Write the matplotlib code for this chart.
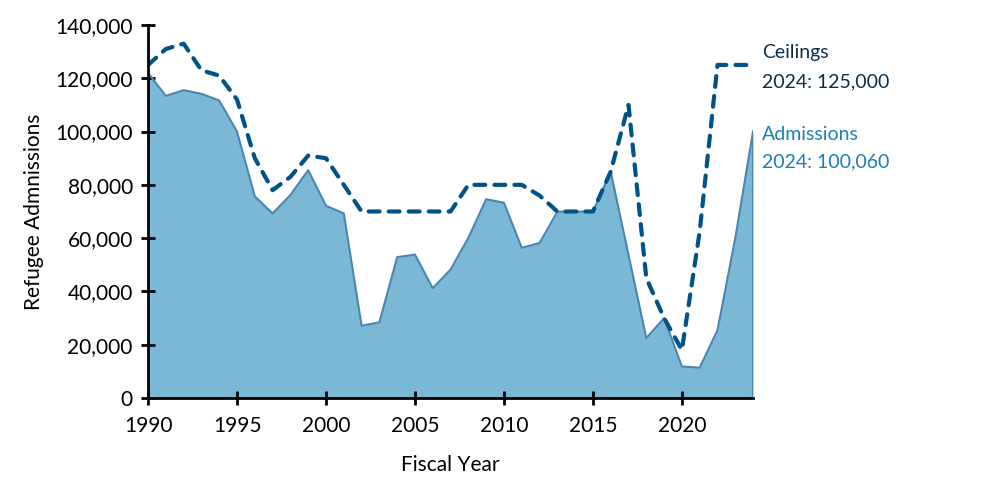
import numpy as np
import matplotlib
matplotlib.use("Agg")
import matplotlib.pyplot as plt
from matplotlib.ticker import FuncFormatter

plt.rcParams['font.family'] = ['Lato', 'DejaVu Sans']

# Fiscal years 1990-2024
years = list(range(1990, 2025))

# Refugee ceilings (dashed line)
ceilings = [125000, 131000, 133000, 123000, 121000, 112000, 90000, 78000, 83000, 91000,
            90000, 80000, 70000, 70000, 70000, 70000, 70000, 70000, 80000, 80000,
            80000, 80000, 76000, 70000, 70000, 70000, 85000, 110000, 45000, 30000,
            18000, 62500, 125000, 125000, 125000]

# Actual admissions (filled area)
admissions = [122066, 113389, 115548, 114181, 111680, 99974, 75682, 69276, 76181, 85525,
              72143, 69304, 27131, 28403, 52873, 53813, 41223, 48218, 60107, 74602,
              73293, 56384, 58179, 69909, 69975, 69920, 84989, 53716, 22491, 30000,
              11814, 11411, 25465, 60014, 100060]

fill_color = '#7ab8d6'
edge_color = '#4a86b0'
ceiling_color = '#005288'

fig = plt.figure(figsize=(9.83, 5.01), dpi=100)
ax = fig.add_axes([0.1506, 0.2056, 0.6155, 0.7445])

ax.fill_between(years, admissions, 0, color=fill_color, linewidth=0)
ax.plot(years, admissions, color=edge_color, linewidth=1.5)
ax.vlines(years[-1], 0, admissions[-1], color=edge_color, linewidth=1.5)
ax.plot(years, ceilings, color=ceiling_color, linewidth=3, linestyle=(0, (2.6, 2.2)),
        dash_capstyle='round', solid_joinstyle='round')

ax.set_xlim(1990, 2024)
ax.set_ylim(0, 140000)
ax.set_xticks(range(1990, 2021, 5))
ax.set_yticks(range(0, 140001, 20000))
ax.yaxis.set_major_formatter(FuncFormatter(lambda v, p: f'{int(v):,}'))

for s in ['top', 'right']:
    ax.spines[s].set_visible(False)
for s in ['left', 'bottom']:
    ax.spines[s].set_linewidth(2)
    ax.spines[s].set_color('black')

ax.tick_params(axis='both', direction='inout', length=10, width=2, labelsize=15,
               colors='black')
ax.tick_params(axis='x', pad=8)
ax.tick_params(axis='y', pad=6)

ax.set_xlabel('Fiscal Year', fontsize=15, labelpad=14)
ax.set_ylabel('Refugee Admnissions', fontsize=15, labelpad=8)

# end-of-line labels, offsets in points (1 pt = 1.389 px at 100 dpi)
labels = [
    ('Ceilings', ceilings[-1], 5.0, '#0b2f4a'),
    (f'2024: {ceilings[-1]:,}', ceilings[-1], -15.8, '#0b2f4a'),
    ('Admissions', admissions[-1], -6.2, '#1a7fb5'),
    (f'2024: {admissions[-1]:,}', admissions[-1], -25.6, '#1a7fb5'),
]
for txt, yv, dy, col in labels:
    ax.annotate(txt, xy=(years[-1], yv), xytext=(6.5, dy), textcoords='offset points',
                fontsize=14, color=col, va='baseline', ha='left', annotation_clip=False)

fig.savefig('out.png', dpi=100)
